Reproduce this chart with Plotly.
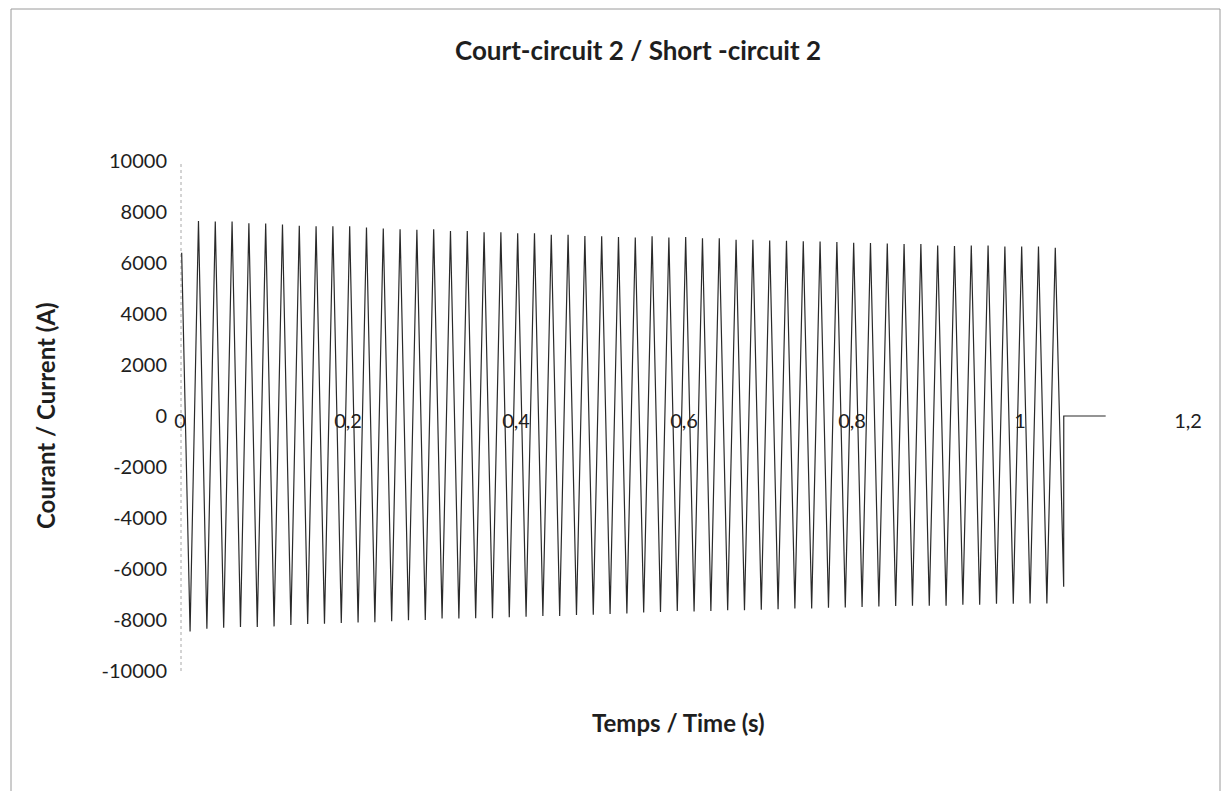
import plotly.graph_objects as go

# ---------------- data ----------------
start_time = 0.002          # s
start_current = 6400        # A
first_neg_time = 0.012      # s, time of the first negative peak
half_period = 0.01          # s (50 Hz)

pos_peaks = [7650, 7630, 7630, 7560, 7550, 7510, 7460, 7440, 7440, 7440,
             7390, 7350, 7320, 7300, 7320, 7250, 7250, 7210, 7210, 7170,
             7170, 7110, 7110, 7060, 7050, 7020, 7000, 7050, 7000, 7020,
             6970, 6970, 6910, 6910, 6880, 6870, 6850, 6840, 6820, 6790,
             6780, 6760, 6740, 6740, 6690, 6670, 6690, 6690, 6650, 6650,
             6650, 6600]
neg_peaks = [-8450, -8340, -8300, -8270, -8270, -8250, -8200, -8160, -8150, -8120,
             -8100, -8090, -8050, -8010, -8000, -7940, -7940, -7930, -7930, -7890,
             -7870, -7840, -7840, -7800, -7790, -7760, -7740, -7710, -7690, -7650,
             -7670, -7650, -7620, -7620, -7600, -7580, -7550, -7550, -7520, -7510,
             -7490, -7470, -7450, -7440, -7440, -7440, -7400, -7400, -7360, -7360,
             -7350, -7350, -6700]
trip_end_time = 1.102       # s, end of the zero-current tail
x_tick_vals = [0, 0.2, 0.4, 0.6, 0.8, 1.0, 1.2]
x_tick_text = ["0", "0,2", "0,4", "0,6", "0,8", "1", "1,2"]
y_tick_vals = [10000, 8000, 6000, 4000, 2000, 0, -2000, -4000, -6000, -8000, -10000]
y_tick_text = ["10000", "8000", "6000", "4000", "2000", "0", "-2000", "-4000", "-6000", "-8000", "-10000"]

title_text = "Court-circuit 2 / Short -circuit 2"
x_title = "Temps / Time (s)"
y_title = "Courant / Current (A)"

# ---------------- build the trace ----------------
times = [start_time]
currents = [start_current]
for k in range(len(neg_peaks)):
    times.append(first_neg_time + 2 * half_period * k)
    currents.append(neg_peaks[k])
    if k < len(pos_peaks):
        times.append(first_neg_time + half_period + 2 * half_period * k)
        currents.append(pos_peaks[k])
last_t = times[-1]
times += [last_t + 0.0001, trip_end_time]
currents += [0, 0]

# ---------------- layout ----------------
W, H = 1231, 791
L, R, T, B = 172, 51, 153, 128
pw, ph = W - L - R, H - T - B

def px_x(p):
    return (p - L) / pw

def px_y(p):
    return (H - B - p) / ph

FONT = "Lato, 'Noto Sans', sans-serif"
TXT = "#1e1e1e"

fig = go.Figure()
fig.add_trace(go.Scatter(x=times, y=currents, mode="lines",
                         line=dict(color="#2a2a2a", width=1.2),
                         hoverinfo="skip", showlegend=False))

fig.update_layout(
    width=W, height=H,
    margin=dict(l=L, r=R, t=T, b=B),
    paper_bgcolor="white", plot_bgcolor="white",
    showlegend=False,
    xaxis=dict(range=[0, 1.2], tickvals=x_tick_vals, ticktext=x_tick_text,
               anchor="free", position=0.5, showgrid=False, zeroline=False,
               showline=False, ticks="", ticklabelstandoff=-9,
               tickfont=dict(family=FONT, size=20, color=TXT)),
    yaxis=dict(range=[-10000, 10000], tickvals=y_tick_vals, ticktext=y_tick_text,
               showgrid=False, zeroline=False, showline=False, ticks="",
               ticklabelstandoff=12,
               tickfont=dict(family=FONT, size=20, color=TXT)),
    title=dict(text="<b>" + title_text + "</b>", x=630 / W, xanchor="center",
               y=1 - 43 / H, yanchor="middle",
               font=dict(family=FONT, size=26, color=TXT)),
)

# faint dotted vertical axis line
fig.add_shape(type="line", xref="paper", yref="paper",
              x0=px_x(173), x1=px_x(173), y0=0, y1=1,
              line=dict(color="#a8a8a8", width=1, dash="dot"), layer="below")

fig.add_annotation(text="<b>" + x_title + "</b>", xref="paper", yref="paper",
                   x=px_x(670), y=px_y(714), xanchor="center", yanchor="middle",
                   showarrow=False, font=dict(family=FONT, size=24, color=TXT))
fig.add_annotation(text="<b>" + y_title + "</b>", xref="paper", yref="paper",
                   x=px_x(37), y=px_y(408), xanchor="center", yanchor="middle",
                   textangle=-90, showarrow=False,
                   font=dict(family=FONT, size=24, color=TXT))

# chart-area frame of the scanned page
fig.add_shape(type="rect", xref="paper", yref="paper",
              x0=px_x(3), x1=px_x(1212), y0=px_y(820), y1=px_y(1),
              line=dict(color="#9a9a9a", width=1), fillcolor="rgba(0,0,0,0)",
              layer="below")

fig.write_html("out.html")
